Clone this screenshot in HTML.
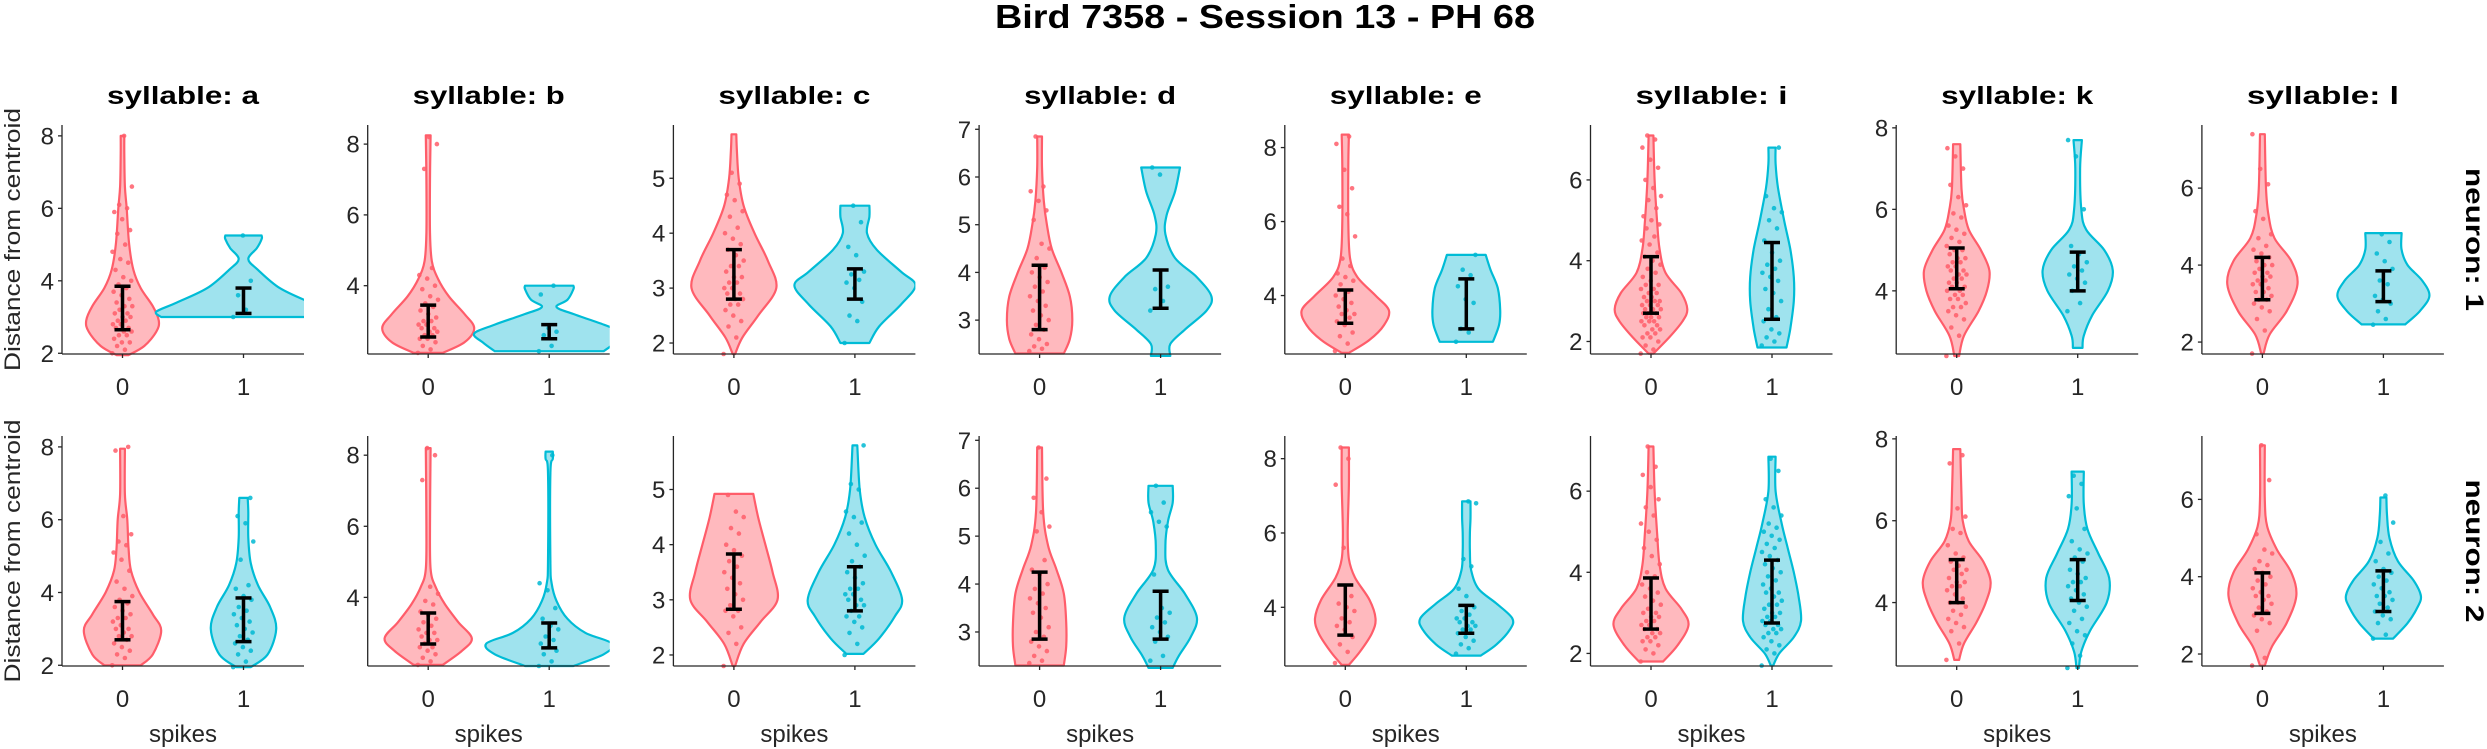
<!DOCTYPE html>
<html><head><meta charset="utf-8">
<style>
html,body{margin:0;padding:0;background:#fff;}
svg{display:block;font-family:"Liberation Sans",Arial,sans-serif;}
</style></head>
<body>
<svg id="fig" width="2487" height="749" viewBox="0 0 2487 749" xmlns="http://www.w3.org/2000/svg">
<text x="1265" y="28" text-anchor="middle" font-weight="bold" font-size="33" textLength="540" lengthAdjust="spacingAndGlyphs" fill="#000">Bird 7358 - Session 13 - PH 68</text>
<g id="plots"></g>
</svg>
<script>
// ---- data ----
const syllables = ["a","b","c","d","e","i","k","l"];
const ylimLo = [1.98,2.07,1.8,2.29,2.42,1.69,2.45,1.69];
const ylimHi = [8.3,8.54,5.97,7.09,8.61,7.36,8.07,7.64];
const yTicks = [[2,4,6,8],[4,6,8],[2,3,4,5],[3,4,5,6,7],[4,6,8],[2,4,6],[4,6,8],[2,4,6]];
const groups = ["0","1"];
const neurons = ["1","2"];

// violin density profiles: [value, half-width in x units]
const profN1 = [
 [[[1.95,0.05],[2.2,0.18],[2.6,0.28],[2.9,0.30],[3.3,0.25],[3.8,0.15],[4.3,0.09],[5,0.055],[6,0.035],[6.6,0.02],[7.5,0.015],[8,0.015]],
  [[3.0,0.68],[3.15,0.72],[3.4,0.55],[3.8,0.3],[4.3,0.12],[4.6,0.04],[4.9,0.11],[5.15,0.15],[5.25,0.15]]],
 [[[2.1,0.12],[2.4,0.3],[2.8,0.38],[3.2,0.3],[3.7,0.17],[4.2,0.08],[4.7,0.03],[5.5,0.015],[7,0.015],[8.25,0.02]],
  [[2.15,0.45],[2.4,0.55],[2.65,0.62],[2.9,0.45],[3.2,0.2],[3.4,0.06],[3.6,0.15],[3.9,0.2],[4.0,0.2]]],
 [[[1.8,0.01],[2.1,0.07],[2.5,0.2],[3.0,0.35],[3.5,0.28],[4.0,0.17],[4.5,0.08],[5,0.04],[5.5,0.025],[5.8,0.02]],
  [[2.0,0.12],[2.3,0.2],[2.7,0.38],[3.05,0.5],[3.3,0.38],[3.7,0.18],[4.0,0.1],[4.3,0.12],[4.5,0.12]]],
 [[[2.3,0.2],[2.6,0.25],[3.0,0.27],[3.5,0.25],[4.0,0.18],[4.5,0.1],[5,0.06],[5.5,0.035],[6.2,0.02],[6.85,0.02]],
  [[2.25,0.08],[2.5,0.08],[2.8,0.2],[3.2,0.38],[3.5,0.42],[3.9,0.3],[4.3,0.12],[4.8,0.04],[5.2,0.05],[5.7,0.12],[6.2,0.16]]],
 [[[2.45,0.03],[2.8,0.2],[3.2,0.32],[3.6,0.36],[4.0,0.25],[4.5,0.1],[5,0.04],[6,0.025],[7.5,0.025],[8.35,0.03]],
  [[2.75,0.22],[3.2,0.27],[3.6,0.28],[4.2,0.26],[4.7,0.2],[5.1,0.16]]],
 [[[1.7,0.02],[2.1,0.15],[2.5,0.26],[2.8,0.3],[3.2,0.25],[3.7,0.12],[4.3,0.07],[5,0.05],[6,0.03],[7.1,0.02]],
  [[1.85,0.12],[2.3,0.15],[3,0.18],[3.6,0.18],[4.3,0.15],[5,0.1],[5.8,0.05],[6.4,0.03],[6.8,0.03]]],
 [[[2.4,0.02],[2.9,0.06],[3.5,0.18],[4.0,0.25],[4.5,0.27],[5.0,0.2],[5.5,0.1],[6,0.06],[6.5,0.04],[7.6,0.03]],
  [[2.6,0.04],[2.9,0.05],[3.4,0.12],[4.0,0.25],[4.5,0.29],[5.0,0.22],[5.5,0.07],[6,0.03],[7,0.02],[7.7,0.035]]],
 [[[1.7,0.01],[2.2,0.06],[2.8,0.2],[3.5,0.29],[4.1,0.24],[4.7,0.1],[5.3,0.05],[6,0.03],[7.4,0.02]],
  [[2.46,0.18],[2.8,0.3],[3.2,0.38],[3.6,0.32],[4.0,0.2],[4.4,0.15],[4.83,0.15]]]
];
const profN2 = [
 [[[2.0,0.15],[2.3,0.25],[2.95,0.32],[3.4,0.25],[4,0.14],[4.6,0.07],[5.2,0.05],[6,0.04],[6.7,0.02],[7.95,0.02]],
  [[1.95,0.06],[2.3,0.2],[3,0.27],[3.6,0.22],[4.2,0.12],[4.8,0.06],[5.5,0.04],[6.2,0.04],[6.6,0.035]]],
 [[[2.1,0.12],[2.5,0.28],[2.85,0.36],[3.3,0.25],[3.8,0.14],[4.3,0.06],[4.8,0.02],[6,0.015],[8.2,0.02]],
  [[2.07,0.2],[2.4,0.45],[2.7,0.52],[3.0,0.3],[3.4,0.15],[3.9,0.06],[4.4,0.02],[5,0.01],[7.5,0.01],[7.9,0.03],[8.1,0.03]]],
 [[[1.8,0.01],[2.2,0.08],[2.6,0.22],[3.0,0.36],[3.5,0.32],[4.0,0.26],[4.5,0.2],[4.92,0.16]],
  [[2.02,0.07],[2.3,0.2],[2.7,0.33],[3.0,0.39],[3.5,0.3],[4.0,0.17],[4.5,0.08],[5,0.04],[5.8,0.02]]],
 [[[2.3,0.2],[2.7,0.22],[3.2,0.22],[3.8,0.2],[4.3,0.14],[4.8,0.07],[5.5,0.03],[6.85,0.02]],
  [[2.25,0.1],[2.5,0.15],[2.9,0.25],[3.3,0.3],[3.8,0.2],[4.3,0.06],[4.8,0.04],[5.3,0.06],[5.7,0.1],[6.05,0.1]]],
 [[[2.45,0.03],[2.8,0.12],[3.3,0.22],[3.7,0.25],[4.2,0.2],[4.8,0.08],[5.3,0.03],[6,0.02],[7.3,0.03],[8.3,0.03]],
  [[2.7,0.12],[3.0,0.25],[3.4,0.36],[3.7,0.38],[4.1,0.25],[4.5,0.1],[5,0.04],[5.5,0.03],[6,0.03],[6.4,0.035],[6.85,0.035]]],
 [[[1.8,0.1],[2.2,0.22],[2.7,0.31],[3.1,0.25],[3.6,0.12],[4.2,0.07],[5,0.05],[6,0.03],[7.1,0.02]],
  [[1.7,0.01],[2.0,0.06],[2.4,0.18],[2.8,0.24],[3.4,0.22],[4,0.18],[4.6,0.13],[5.2,0.08],[6,0.03],[6.85,0.03]]],
 [[[2.6,0.02],[3.0,0.06],[3.5,0.16],[4.0,0.24],[4.5,0.28],[5.0,0.22],[5.5,0.1],[6,0.05],[6.6,0.04],[7.75,0.03]],
  [[2.4,0.01],[2.8,0.03],[3.3,0.1],[4,0.24],[4.6,0.26],[5.2,0.17],[5.8,0.08],[6.4,0.05],[7.2,0.05]]],
 [[[1.7,0.02],[2.2,0.08],[2.8,0.2],[3.5,0.28],[4.1,0.24],[4.7,0.12],[5.3,0.04],[6,0.02],[7.4,0.02]],
  [[2.4,0.08],[2.8,0.2],[3.2,0.28],[3.5,0.31],[3.9,0.25],[4.4,0.12],[5,0.05],[5.6,0.03],[6.05,0.025]]]
];
// error bars [low, high]
const errN1 = [[[2.65,3.85],[3.1,3.8]],[[2.55,3.45],[2.5,2.9]],[[2.8,3.7],[2.8,3.35]],[[2.8,4.15],[3.25,4.05]],[[3.25,4.15],[3.1,4.45]],[[2.7,4.1],[2.55,4.45]],[[4.05,5.05],[4.0,4.95]],[[3.1,4.2],[3.05,3.85]]];
const errN2 = [[[2.7,3.75],[2.65,3.85]],[[2.69,3.56],[2.58,3.28]],[[2.83,3.83],[2.8,3.6]],[[2.85,4.25],[2.85,3.85]],[[3.25,4.6],[3.3,4.05]],[[2.6,3.86],[2.75,4.3]],[[4.0,5.05],[4.05,5.05]],[[3.05,4.1],[3.1,4.15]]];
// individual observations
const ptsN1 = [
 ["2.0 2.1 2.2 2.3 2.3 2.4 2.5 2.5 2.6 2.6 2.7 2.7 2.8 2.8 2.9 2.9 3.0 3.0 3.1 3.1 3.2 3.3 3.3 3.4 3.5 3.6 3.7 3.8 3.9 4.0 4.1 4.3 4.5 4.6 4.8 5.0 5.3 5.4 5.7 5.9 6.0 6.1 6.6 8.0","3.0 3.2 3.6 4.0 5.25"],
 ["2.1 2.2 2.3 2.4 2.5 2.5 2.6 2.6 2.7 2.7 2.8 2.8 2.9 2.9 3.0 3.0 3.1 3.2 3.3 3.4 3.5 3.6 3.7 3.9 4.0 4.2 4.3 4.5 7.3 8.0 8.2","2.15 2.3 2.6 2.7 2.8 3.75 4.0"],
 ["1.8 2.1 2.3 2.4 2.5 2.6 2.7 2.7 2.8 2.8 2.9 2.9 3.0 3.0 3.1 3.1 3.2 3.2 3.3 3.4 3.4 3.5 3.6 3.7 3.8 3.9 4.0 4.1 4.3 4.4 4.6 4.7 4.9 5.1","2.0 2.4 2.5 2.75 3.0 3.1 3.15 3.25 3.3 3.6 3.75 4.2 4.5"],
 ["2.35 2.4 2.45 2.5 2.6 2.7 2.8 2.9 3.0 3.1 3.2 3.3 3.4 3.5 3.6 3.7 3.8 3.9 4.0 4.1 4.3 4.5 4.6 5.1 5.3 5.5 5.7 5.8 6.85","3.2 3.4 3.65 3.7 6.05 6.2"],
 ["2.5 2.7 2.9 3.0 3.2 3.3 3.4 3.5 3.5 3.6 3.7 3.8 3.9 4.0 4.1 4.3 4.4 4.5 4.6 4.8 5.0 5.6 6.2 6.4 6.9 7.4 8.1 8.3","2.75 3.0 3.1 3.8 3.9 4.25 4.55 4.7 5.1"],
 ["1.7 1.8 1.9 2.0 2.1 2.1 2.2 2.2 2.3 2.3 2.4 2.4 2.5 2.5 2.5 2.6 2.6 2.6 2.7 2.7 2.7 2.8 2.8 2.8 2.9 2.9 2.9 3.0 3.0 3.0 3.1 3.1 3.2 3.2 3.3 3.3 3.4 3.4 3.5 3.6 3.7 3.8 3.9 4.0 4.1 4.2 4.4 4.5 4.6 4.8 4.9 5.0 5.1 5.3 5.5 5.6 5.8 6.0 6.3 6.5 6.8 7.0 7.1","1.9 2.0 2.1 2.2 2.3 2.5 2.6 2.8 3.0 3.2 3.3 3.5 3.6 3.7 3.8 3.9 4.0 4.2 4.5 4.8 5.0 5.2 5.3 5.6 6.8"],
 ["2.4 2.9 3.1 3.3 3.4 3.5 3.6 3.6 3.7 3.8 3.8 3.9 3.9 4.0 4.0 4.1 4.1 4.2 4.2 4.3 4.3 4.4 4.4 4.5 4.5 4.6 4.6 4.7 4.7 4.8 4.8 4.9 5.0 5.0 5.1 5.2 5.3 5.4 5.5 5.6 5.8 5.9 6.1 6.3 6.6 7.0 7.3 7.5","3.5 3.7 4.0 4.2 4.3 4.4 4.5 4.6 4.7 4.9 5.1 6.0 7.3 7.7"],
 ["1.7 2.3 2.6 2.8 2.9 3.0 3.1 3.1 3.2 3.3 3.3 3.4 3.5 3.5 3.6 3.6 3.7 3.7 3.8 3.8 3.9 4.0 4.0 4.1 4.2 4.3 4.4 4.5 4.7 4.8 5.2 5.4 6.1 6.5 7.4","2.45 2.6 2.8 3.0 3.1 3.2 3.5 3.6 3.9 4.1 4.3 4.6 4.8"]
];
const ptsN2 = [
 ["2.0 2.2 2.3 2.4 2.5 2.6 2.7 2.8 2.8 2.9 3.0 3.0 3.1 3.2 3.3 3.3 3.4 3.5 3.6 3.7 3.8 3.9 4.1 4.3 4.6 4.9 5.1 5.3 5.4 5.6 6.1 7.9 8.0","1.95 2.1 2.3 2.4 2.5 2.6 2.7 2.8 2.9 3.0 3.1 3.2 3.3 3.4 3.5 3.6 3.8 3.9 4.1 4.2 4.9 5.4 5.9 6.1 6.6"],
 ["2.1 2.2 2.3 2.4 2.5 2.6 2.6 2.7 2.8 2.8 2.9 3.0 3.0 3.1 3.2 3.3 3.4 3.5 3.6 3.8 3.9 4.1 4.3 7.3 8.0 8.2","2.07 2.2 2.4 2.5 2.6 2.7 2.8 2.9 3.1 3.2 3.4 3.7 4.2 4.4 8.0"],
 ["1.8 2.2 2.4 2.5 2.7 2.8 2.8 2.9 3.0 3.1 3.2 3.3 3.4 3.5 3.6 3.7 3.8 3.9 4.0 4.2 4.3 4.5 4.6 4.9","2.0 2.2 2.4 2.5 2.6 2.7 2.7 2.8 2.9 2.9 3.0 3.0 3.1 3.1 3.2 3.2 3.3 3.4 3.5 3.6 3.7 3.8 4.0 4.2 4.4 4.5 4.6 5.0 5.1 5.8"],
 ["2.35 2.4 2.5 2.6 2.7 2.8 2.9 3.0 3.1 3.3 3.4 3.5 3.6 3.7 3.8 3.9 4.0 4.2 4.3 4.5 5.1 5.2 5.5 5.8 6.2 6.85","2.4 2.5 2.8 2.9 3.0 3.1 3.2 3.3 3.4 3.5 4.2 5.2 5.3 5.5 5.7 6.05"],
 ["2.5 2.8 3.0 3.2 3.4 3.5 3.6 3.7 3.9 4.0 4.1 4.3 5.6 7.3 8.0 8.3","2.75 2.9 3.0 3.1 3.2 3.3 3.4 3.4 3.5 3.5 3.6 3.6 3.7 3.7 3.8 3.9 4.0 4.3 4.5 5.1 5.3 6.8 6.85"],
 ["1.8 2.0 2.1 2.2 2.3 2.3 2.4 2.4 2.5 2.5 2.6 2.6 2.7 2.7 2.8 2.8 2.9 2.9 3.0 3.0 3.1 3.2 3.3 3.4 3.5 3.6 3.7 3.9 4.0 4.2 4.4 4.6 4.8 5.0 5.2 5.4 5.6 5.8 6.1 6.4 6.6 7.1","1.7 2.0 2.1 2.2 2.3 2.4 2.5 2.5 2.6 2.6 2.7 2.7 2.8 2.8 2.9 2.9 3.0 3.0 3.1 3.2 3.2 3.3 3.4 3.5 3.5 3.6 3.7 3.8 3.9 4.0 4.1 4.2 4.3 4.4 4.5 4.6 4.7 4.8 4.9 5.0 5.1 5.2 5.4 5.6 5.8 6.5 6.8"],
 ["2.6 3.0 3.3 3.4 3.5 3.6 3.7 3.8 3.9 4.0 4.0 4.1 4.2 4.3 4.4 4.4 4.5 4.5 4.6 4.7 4.8 4.8 4.9 5.0 5.1 5.2 5.4 5.7 5.8 6.1 6.3 7.4 7.6","2.4 2.7 3.0 3.2 3.3 3.5 3.6 3.8 3.9 4.0 4.1 4.2 4.3 4.4 4.5 4.5 4.6 4.7 4.8 5.0 5.1 5.2 5.3 5.5 5.8 6.3 6.6 6.9 7.1"],
 ["1.7 1.9 2.6 2.8 2.9 3.0 3.1 3.2 3.3 3.4 3.5 3.5 3.6 3.7 3.8 3.9 4.0 4.1 4.2 4.3 4.4 4.6 4.7 5.1 6.5 7.4","2.4 2.5 2.8 2.9 3.0 3.1 3.2 3.3 3.4 3.5 3.5 3.6 3.7 3.8 3.9 4.0 4.1 4.2 4.4 4.6 4.9 5.4 6.1"]
];

// ---- layout ----
const NS = "http://www.w3.org/2000/svg";
const plots = document.getElementById('plots');
const axLeft0 = 62, axStride = 305.7, axW = 242;
const rowTop = [125, 436], rowBot = [354, 666];
const fillC = ["#ffb9be", "#9fe3ee"];
const lineC = ["#ff5d6a", "#00bcd6"];
const dotC = ["#ff5d6a", "#00b8d2"];

function mk(tag, attrs, parent) {
  const e = document.createElementNS(NS, tag);
  for (const k in attrs) e.setAttribute(k, attrs[k]);
  parent.appendChild(e);
  return e;
}
function smoothPath(pts) {
  let d = "M" + pts[0][0].toFixed(1) + "," + pts[0][1].toFixed(1);
  for (let i = 0; i < pts.length - 1; i++) {
    const p0 = pts[Math.max(0, i - 1)], p1 = pts[i], p2 = pts[i + 1], p3 = pts[Math.min(pts.length - 1, i + 2)];
    const c1x = p1[0] + (p2[0] - p0[0]) / 6, c1y = p1[1] + (p2[1] - p0[1]) / 6;
    const c2x = p2[0] - (p3[0] - p1[0]) / 6, c2y = p2[1] - (p3[1] - p1[1]) / 6;
    d += "C" + c1x.toFixed(1) + "," + c1y.toFixed(1) + " " + c2x.toFixed(1) + "," + c2y.toFixed(1) + " " + p2[0].toFixed(1) + "," + p2[1].toFixed(1);
  }
  return d;
}

for (let r = 0; r < 2; r++) {
  const prof = r === 0 ? profN1 : profN2;
  const errs = r === 0 ? errN1 : errN2;
  const pts = r === 0 ? ptsN1 : ptsN2;
  for (let c = 0; c < syllables.length; c++) {
    const L = axLeft0 + c * axStride, R = L + axW, T = rowTop[r], B = rowBot[r];
    const lo = ylimLo[c], hi = ylimHi[c];
    const yS = v => B - (v - lo) / (hi - lo) * (B - T);
    const xS = v => L + (v + 0.5) / 2 * axW;
    const g = mk('g', {}, plots);
    
    
    const clipId = 'clip' + r + '_' + c;
    const cp = mk('clipPath', {id: clipId}, g);
    mk('rect', {x: L, y: T - 5, width: axW, height: B - T + 10}, cp);
    const dataG = mk('g', {'clip-path': 'url(#' + clipId + ')'}, g);
    for (let k = 0; k < 2; k++) {
      const cx = xS(k);
      const p = prof[c][k];
      const right = p.map(q => [cx + q[1] * axW / 2, yS(q[0])]);
      const left = p.slice().reverse().map(q => [cx - q[1] * axW / 2, yS(q[0])]);
      let d = smoothPath(right);
      d += "L" + left[0][0].toFixed(1) + "," + left[0][1].toFixed(1) + smoothPath(left).replace(/^M[^C]*/, "") + "Z";
      const vp = mk('path', {d: d, fill: fillC[k], stroke: lineC[k], 'stroke-width': 2.2, 'stroke-linejoin': 'round'}, dataG);
      
      
      const vals = pts[c][k].split(" ").map(Number);
      vals.forEach((v, i) => {
        const j = (((i * 0.6180339) % 1) - 0.5) * 2 * 0.085 * axW / 2;
        const dot = mk('circle', {cx: (cx + j).toFixed(1), cy: yS(v).toFixed(1), r: 2.3, fill: dotC[k], 'fill-opacity': 0.85}, dataG);
        
        
      });
      const e = errs[c][k];
      const eg = mk('g', {stroke: '#000', 'stroke-width': 3.5}, dataG);
      
      
      mk('line', {x1: cx, x2: cx, y1: yS(e[0]), y2: yS(e[1])}, eg);
      mk('line', {x1: cx - 8, x2: cx + 8, y1: yS(e[0]), y2: yS(e[0])}, eg);
      mk('line', {x1: cx - 8, x2: cx + 8, y1: yS(e[1]), y2: yS(e[1])}, eg);
    }
    // axes
    const ax = mk('g', {stroke: '#262626', 'stroke-width': 1.3, fill: 'none'}, g);
    
    
    mk('line', {x1: L, x2: L, y1: T, y2: B}, ax);
    mk('line', {x1: L, x2: R, y1: B, y2: B}, ax);
    yTicks[c].forEach(t => {
      const y = yS(t);
      mk('line', {x1: L - 4, x2: L, y1: y, y2: y}, ax);
      const tl = mk('text', {x: L - 8, y: y + 8.5, 'text-anchor': 'end', 'font-size': 24, fill: '#262626'}, g);
      tl.textContent = t;
      
      
    });
    for (let k = 0; k < 2; k++) {
      const x = xS(k);
      mk('line', {x1: x, x2: x, y1: B, y2: B + 4}, ax);
      const tl = mk('text', {x: x, y: B + 41, 'text-anchor': 'middle', 'font-size': 24, fill: '#262626'}, g);
      tl.textContent = groups[k];
      
      
    }
    if (r === 0) {
      const st = mk('text', {x: (L + R) / 2, y: 104, 'text-anchor': 'middle', 'font-size': 25, 'font-weight': 'bold', fill: '#000', textLength: 152, lengthAdjust: 'spacingAndGlyphs'}, g);
      st.textContent = 'syllable: ' + syllables[c];
      
      
    } else {
      const xl = mk('text', {x: (L + R) / 2, y: 742, 'text-anchor': 'middle', 'font-size': 24, fill: '#262626'}, g);
      xl.textContent = 'spikes';
      
      
    }
    if (c === 0) {
      const cyl = (T + B) / 2;
      const yl = mk('text', {x: 0, y: 0, transform: 'translate(20,' + cyl + ') rotate(-90)', 'text-anchor': 'middle', 'font-size': 22, fill: '#262626', textLength: 263, lengthAdjust: 'spacingAndGlyphs'}, g);
      yl.textContent = 'Distance from centroid';
      
      
    }
    if (c === syllables.length - 1) {
      const cyl = (T + B) / 2;
      const nl = mk('text', {x: 0, y: 0, transform: 'translate(2466,' + cyl + ') rotate(90)', 'text-anchor': 'middle', 'font-size': 25, 'font-weight': 'bold', fill: '#000', textLength: 143, lengthAdjust: 'spacingAndGlyphs'}, g);
      nl.textContent = 'neuron: ' + neurons[r];
      
      
    }
  }
}
</script>
</body></html>
